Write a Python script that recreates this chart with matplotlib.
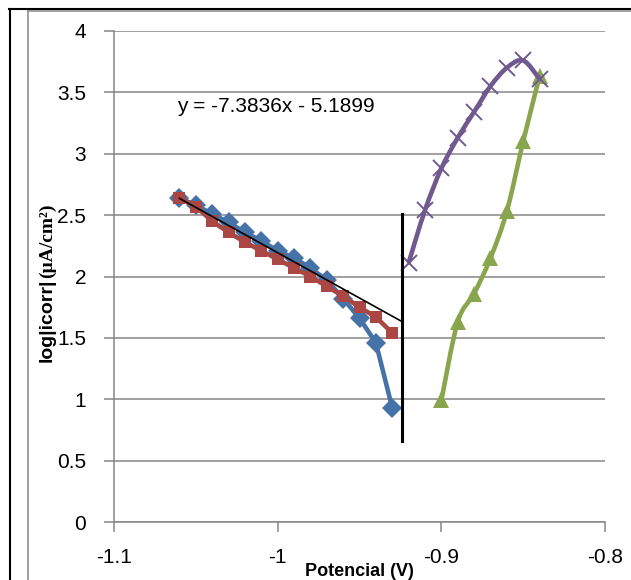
import numpy as np
import matplotlib
matplotlib.use("Agg")
import matplotlib.pyplot as plt
from matplotlib.path import Path
from matplotlib.patches import PathPatch
from matplotlib.lines import Line2D

# --------------------------
# Data
# --------------------------
x_left = [-1.06, -1.05, -1.04, -1.03, -1.02, -1.01, -1.00,
          -0.99, -0.98, -0.97, -0.96, -0.95, -0.94, -0.93]
y_blue = [2.64, 2.58, 2.51, 2.44, 2.36, 2.29, 2.21,
          2.15, 2.07, 1.97, 1.82, 1.66, 1.46, 0.93]
y_red = [2.64, 2.57, 2.45, 2.36, 2.28, 2.21, 2.14,
         2.07, 2.00, 1.92, 1.84, 1.75, 1.67, 1.54]

x_green = [-0.90, -0.89, -0.88, -0.87, -0.86, -0.85, -0.84]
y_green = [0.99, 1.63, 1.86, 2.15, 2.53, 3.10, 3.63]

x_purple = [-0.92, -0.91, -0.90, -0.89, -0.88, -0.87, -0.86, -0.85, -0.84]
y_purple = [2.11, 2.54, 2.88, 3.13, 3.34, 3.55, 3.70, 3.76, 3.61]

fit_slope, fit_icept = -7.3836, -5.1899
fit_range = [-1.06, -0.924]
vline_x = -0.924
vline_y = [0.66, 2.51]

xticks = [-1.1, -1.0, -0.9, -0.8]
xticklabels = ["-1.1", "-1", "-0.9", "-0.8"]
yticks = [0, 0.5, 1, 1.5, 2, 2.5, 3, 3.5, 4]
yticklabels = ["0", "0.5", "1", "1.5", "2", "2.5", "3", "3.5", "4"]

BLUE = "#4572A7"
RED = "#AA4643"
GREEN = "#89A54E"
PURPLE = "#71588F"
GRID = "#868686"

plt.rcParams['font.family'] = ['Liberation Sans', 'DejaVu Sans']


def smooth_path(x, y, t=1/6.):
    """Bezier path through the points (Excel style smoothed line)"""
    pts = np.column_stack([x, y])
    verts = [pts[0]]
    codes = [Path.MOVETO]
    n = len(pts)
    for i in range(n - 1):
        p0 = pts[i - 1] if i > 0 else pts[i]
        p1 = pts[i]
        p2 = pts[i + 1]
        p3 = pts[i + 2] if i + 2 < n else pts[i + 1]
        verts += [p1 + (p2 - p0) * t, p2 - (p3 - p1) * t, p2]
        codes += [Path.CURVE4] * 3
    return Path(verts, codes)


W, H = 631, 580
fig = plt.figure(figsize=(W / 100, H / 100), dpi=100)
ax = fig.add_axes([114 / W, 1 - 522 / H, (605 - 114) / W, (522 - 31) / H])

ax.set_xlim(-1.1, -0.8)
ax.set_ylim(0, 4)
ax.set_xticks(xticks)
ax.set_xticklabels(xticklabels)
ax.set_yticks(yticks)
ax.set_yticklabels(yticklabels)
ax.tick_params(axis='both', direction='out', length=7, width=1.1, color=GRID,
               labelsize=15, pad=13)
ax.tick_params(axis='x', pad=12)
for s in ['top', 'right']:
    ax.spines[s].set_visible(False)
for s in ['left', 'bottom']:
    ax.spines[s].set_color(GRID)
    ax.spines[s].set_linewidth(1.1)
ax.yaxis.grid(True, color=GRID, lw=1.1)
ax.set_axisbelow(True)

# series
LW = 3.3
ax.plot(x_left, y_blue, color=BLUE, lw=LW, marker='D', ms=10, mew=0, zorder=3)
ax.plot(x_left, y_red, color=RED, lw=LW, marker='s', ms=9, mew=0, zorder=4)

ax.add_patch(PathPatch(smooth_path(x_green, y_green), fill=False,
                       edgecolor=GREEN, lw=LW, zorder=3))
ax.plot(x_green, y_green, ls='none', marker='^', ms=12, mew=0, color=GREEN, zorder=3)

ax.add_patch(PathPatch(smooth_path(x_purple, y_purple), fill=False,
                       edgecolor=PURPLE, lw=LW, zorder=4))
ax.plot(x_purple, y_purple, ls='none', marker='x', ms=11, mew=1.4, color=PURPLE, zorder=4)

# linear fit and separator
fx = np.array(fit_range)
ax.plot(fx, fit_slope * fx + fit_icept, color='black', lw=1.2, zorder=5)
ax.plot([vline_x, vline_x], vline_y, color='black', lw=2.2, zorder=5)
ax.text(-1.0615, 3.34, "y = -7.3836x - 5.1899", fontsize=15, va='baseline', ha='left')

# axis titles
ax.set_xlabel("Potencial (V)", fontsize=13, fontweight='bold')
ax.xaxis.set_label_coords((359 - 114) / (605 - 114), -(572 - 522) / (522 - 31))
ax.xaxis.label.set_verticalalignment('center')

t1 = fig.text(47 / W, 1 - 362 / H, "log|icorr|", rotation=90, rotation_mode='anchor',
              ha='left', va='center', fontsize=14, fontweight='bold')
fig.canvas.draw()
bb = t1.get_window_extent(fig.canvas.get_renderer())
fig.text(47 / W, (bb.y1 + 1) / H, "(µA/cm²)", rotation=90, rotation_mode='anchor',
         ha='left', va='center', fontsize=14, fontweight='bold',
         family=['Liberation Serif', 'DejaVu Serif'])

# outer frame lines
fig.add_artist(Line2D([10 / W, 10 / W], [0, 1 - 9 / H], color='black', lw=1.5))
fig.add_artist(Line2D([9 / W, 1], [1 - 9 / H, 1 - 9 / H], color='black', lw=1.5))
fig.add_artist(Line2D([28 / W, 28 / W], [0, 1 - 10.5 / H], color=GRID, lw=1.1))
fig.add_artist(Line2D([28 / W, 1], [1 - 10.8 / H, 1 - 10.8 / H], color=GRID, lw=1.1))

fig.savefig("out.png", dpi=100)
